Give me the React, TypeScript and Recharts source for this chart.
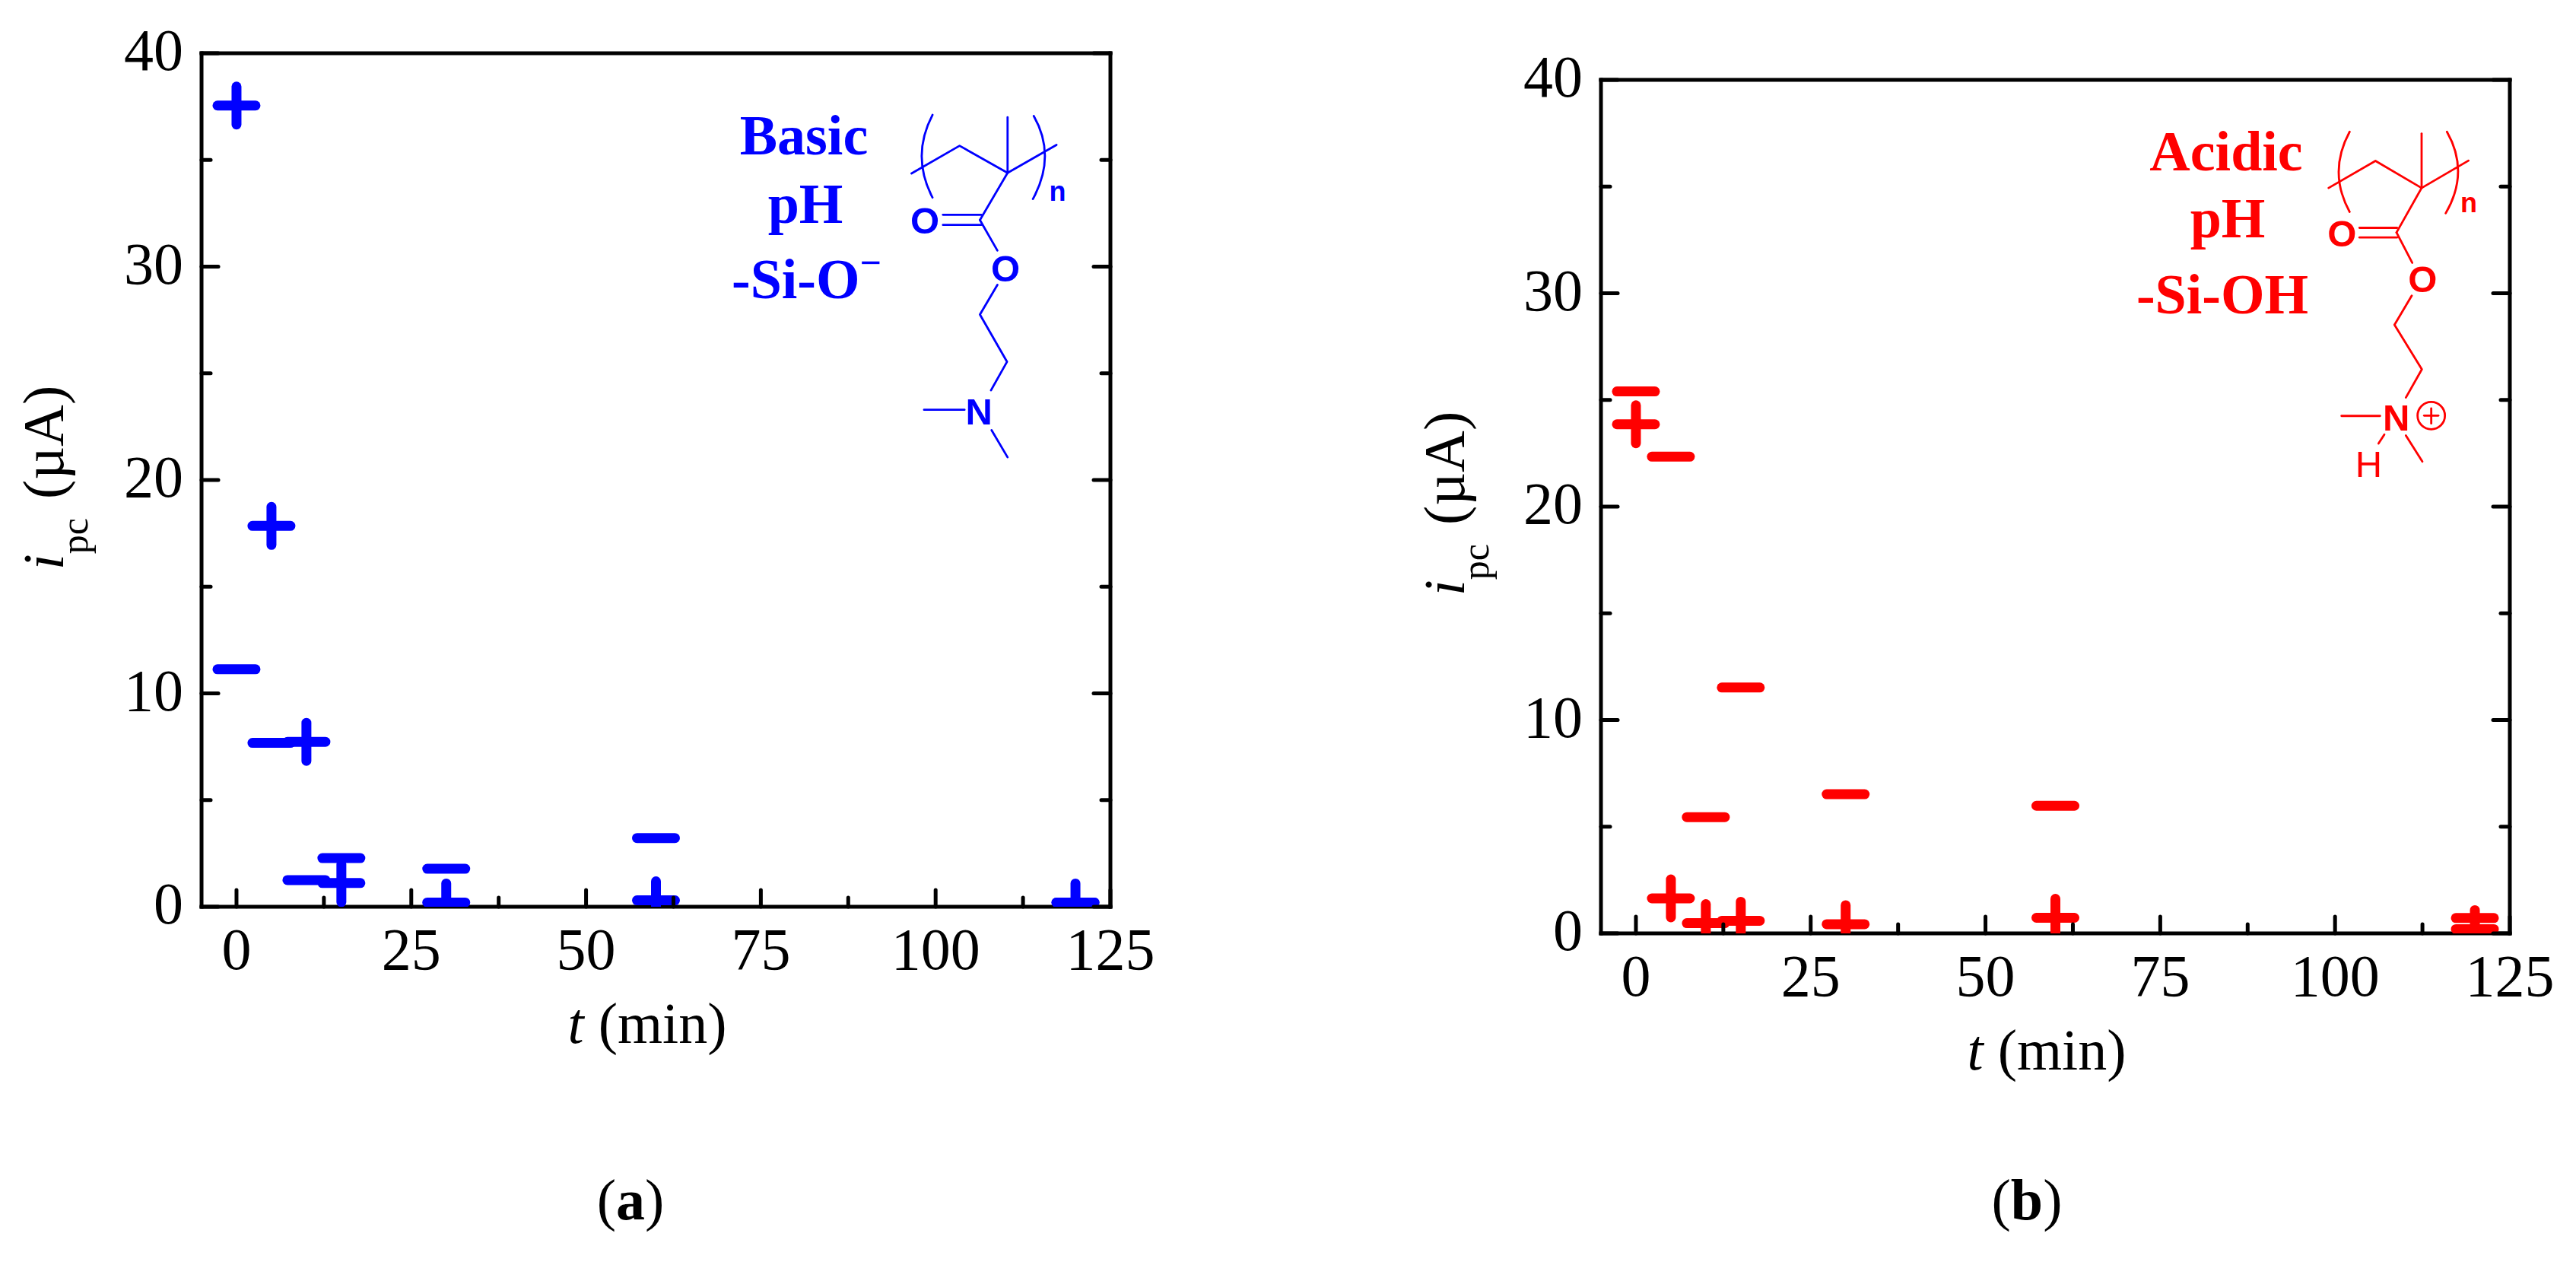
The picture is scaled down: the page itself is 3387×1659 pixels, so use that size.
import React from "react";
import { ScatterChart, Scatter, XAxis, YAxis } from "recharts";

const times = [0, 5, 10, 15, 30, 60, 120];
const basicPlus = [37.55, 17.85, 7.73, 1.11, 0.2, 0.3, 0.2];
const basicMinus = [11.13, 7.68, 1.25, 2.28, 1.78, 3.22, 0.2];
const acidicPlus = [23.86, 1.64, 0.48, 0.59, 0.43, 0.73, 0.2];
const acidicMinus = [25.4, 22.34, 5.45, 11.52, 6.52, 5.98, 0.72];
const xTicks = [0, 12.5, 25, 37.5, 50, 62.5, 75, 87.5, 100, 112.5, 125];
const xMajor = [0, 25, 50, 75, 100, 125];
const yTicks = [0, 5, 10, 15, 20, 25, 30, 35, 40];
const yMajor = [0, 10, 20, 30, 40];

const SERIF = "'Liberation Serif', 'Times New Roman', serif";
const SANS = "'Liberation Sans', Arial, sans-serif";
const TICK = 78;
const MAJ = 22;
const MIN = 12;
const TW = 5;

const rows = (ys: number[]) => times.map((t, i) => ({ t, v: ys[i] }));

function mark(kind: "plus" | "minus", color: string) {
  return (p: any) => {
    const { cx, cy } = p;
    const r = 25;
    return (
      <g stroke={color} strokeWidth={13} strokeLinecap="round" fill="none">
        <line x1={cx - r} y1={cy} x2={cx + r} y2={cy} />
        {kind === "plus" && <line x1={cx} y1={cy - r} x2={cx} y2={cy + r} />}
      </g>
    );
  };
}

function xTick(side: "bottom" | "top") {
  return (p: any) => {
    const { x, y, payload } = p;
    const major = xMajor.includes(payload.value);
    const len = major ? MAJ : MIN;
    const dir = side === "bottom" ? -1 : 1;
    return (
      <g>
        <line x1={x} y1={y} x2={x} y2={y + dir * len} stroke="#000" strokeWidth={TW} strokeLinecap="round" />
        {side === "bottom" && major && (
          <text x={x} y={y + 82} textAnchor="middle" fontFamily={SERIF} fontSize={TICK} fill="#000">
            {payload.value}
          </text>
        )}
      </g>
    );
  };
}

function yTick(side: "left" | "right") {
  return (p: any) => {
    const { x, y, payload } = p;
    const major = yMajor.includes(payload.value);
    const len = major ? MAJ : MIN;
    const dir = side === "left" ? 1 : -1;
    return (
      <g>
        <line x1={x} y1={y} x2={x + dir * len} y2={y} stroke="#000" strokeWidth={TW} strokeLinecap="round" />
        {side === "left" && major && (
          <text x={x - 24} y={y + 22} textAnchor="end" fontFamily={SERIF} fontSize={TICK} fill="#000">
            {payload.value}
          </text>
        )}
      </g>
    );
  };
}

function Panel({ left, top, right, bottom, color, plus, minus }: any) {
  const line = { stroke: "#000", strokeWidth: TW, strokeLinecap: "square" as const };
  const common = { type: "number" as const, tickLine: false, tickSize: 0, tickMargin: 0, interval: 0 as const, axisLine: line, allowDataOverflow: true };
  return (
    <div style={{ position: "absolute", left: 0, top: 0 }}>
      <ScatterChart width={3387} height={1659} margin={{ left: left - 1, top: top - 1, right: 3387 - right - 1, bottom: 1659 - bottom - 1 }}>
        <XAxis {...common} dataKey="t" domain={[-5, 125]} ticks={xTicks} height={1} tick={xTick("bottom")} />
        <XAxis {...common} xAxisId="top" orientation="top" domain={[-5, 125]} ticks={xTicks} height={1} tick={xTick("top")} />
        <YAxis {...common} dataKey="v" domain={[0, 40]} ticks={yTicks} width={1} tick={yTick("left")} />
        <YAxis {...common} yAxisId="right" orientation="right" domain={[0, 40]} ticks={yTicks} width={1} tick={yTick("right")} />
        <Scatter data={rows(plus)} isAnimationActive={false} shape={mark("plus", color)} />
        <Scatter data={rows(minus)} isAnimationActive={false} shape={mark("minus", color)} />
      </ScatterChart>
    </div>
  );
}

type Pt = [number, number];
function Structure({ ox, oy, sx, sy, color, lines, parens, labels, n, extra }: any) {
  const m = ([x, y]: Pt): Pt => [ox + x / sx, oy + y / sy];
  const d = (pts: Pt[]) => "M" + pts.map((q) => m(q).join(" ")).join("L");
  const q = (pts: Pt[]) => {
    const [a, b, c] = pts.map(m);
    return `M${a[0]} ${a[1]}Q${b[0]} ${b[1]} ${c[0]} ${c[1]}`;
  };
  return (
    <g stroke={color} fill="none" strokeWidth={2.8} strokeLinecap="round" strokeLinejoin="round">
      {lines.map((l: Pt[], i: number) => <path key={i} d={d(l)} />)}
      {parens.map((l: Pt[], i: number) => <path key={i} d={q(l)} />)}
      {labels.map(([t, x, y]: [string, number, number], i: number) => {
        const [a, b] = m([x, y]);
        return (
          <text key={i} x={a} y={b + 18} textAnchor="middle" fontFamily={SANS} fontWeight={t === "H" ? 400 : 700} fontSize={49} fill={color} stroke="none">
            {t}
          </text>
        );
      })}
      {(() => {
        const [a, b] = m(n);
        return <text x={a} y={b + 14} textAnchor="middle" fontFamily={SANS} fontWeight={700} fontSize={36} fill={color} stroke="none">n</text>;
      })()}
      {extra && extra(m)}
    </g>
  );
}

function Overlay() {
  const T = (p: any) => <text fontFamily={SERIF} fontSize={76} fill="#000" {...p} />;
  const note = { fontFamily: SERIF, fontWeight: 700, fontSize: 74 };
  const yTitle = (x: number, y: number) => (
    <text transform={`translate(${x} ${y}) rotate(-90)`} textAnchor="middle" fontFamily={SERIF} fontSize={76} fill="#000">
      <tspan fontStyle="italic">i</tspan>
      <tspan fontSize={50} dy={32}>pc</tspan>
      <tspan dy={-32} dx={6}> (µA)</tspan>
    </text>
  );
  return (
    <svg width={3387} height={1659} style={{ position: "absolute", left: 0, top: 0, pointerEvents: "none" }}>
      {yTitle(83, 628)}
      {yTitle(1925, 662)}
      <T x={851} y={1371} textAnchor="middle"><tspan fontStyle="italic">t</tspan> (min)</T>
      <T x={2691} y={1406} textAnchor="middle"><tspan fontStyle="italic">t</tspan> (min)</T>
      <T x={829} y={1603} textAnchor="middle">(<tspan fontWeight={700}>a</tspan>)</T>
      <T x={2665} y={1603} textAnchor="middle">(<tspan fontWeight={700}>b</tspan>)</T>

      <g {...note} fill="#0000ff">
        <text x={1057} y={203} textAnchor="middle">Basic</text>
        <text x={1059} y={293} textAnchor="middle">pH</text>
        <text x={962} y={392}>-Si-O<tspan fontSize={50} dy={-30}>−</tspan></text>
      </g>
      <g {...note} fill="#ff0000">
        <text x={2927} y={224} textAnchor="middle">Acidic</text>
        <text x={2929} y={312} textAnchor="middle">pH</text>
        <text x={3035} y={412} textAnchor="end">-Si-OH</text>
      </g>

      <Structure
        ox={900} oy={50} sx={2.613} sy={2.613} color="#0000ff"
        lines={[
          [[780, 465], [945, 370], [1110, 463], [1278, 367]],
          [[1110, 272], [1110, 463]],
          [[1110, 463], [1015, 625]],
          [[888, 607], [1020, 607]],
          [[888, 642], [1020, 642]],
          [[1015, 625], [1075, 730]],
          [[1075, 848], [1015, 950], [1108, 1112], [1053, 1210]],
          [[823, 1277], [962, 1277]],
          [[1055, 1347], [1110, 1440]],
        ]}
        parens={[
          [[852, 264], [778, 405], [852, 548]],
          [[1200, 268], [1278, 405], [1197, 553]],
        ]}
        labels={[["O", 826, 625], ["O", 1103, 788], ["N", 1012, 1280]]}
        n={[1282, 522]}
      />
      <Structure
        ox={2850} oy={50} sx={3} sy={2.613} color="#ff0000"
        lines={[
          [[635, 515], [820, 422], [1002, 515], [1187, 421]],
          [[1002, 328], [1002, 515]],
          [[1002, 515], [903, 668]],
          [[757, 652], [905, 652]],
          [[757, 685], [905, 685]],
          [[903, 668], [965, 772]],
          [[963, 885], [895, 985], [1003, 1138], [940, 1235]],
          [[686, 1298], [838, 1298]],
          [[940, 1365], [1005, 1455]],
          [[855, 1362], [832, 1393]],
          [[1012, 1297], [1068, 1297]],
          [[1040, 1272], [1040, 1324]],
        ]}
        parens={[
          [[718, 322], [632, 460], [718, 597]],
          [[1102, 322], [1192, 460], [1097, 602]],
        ]}
        labels={[["O", 688, 668], ["O", 1006, 826], ["N", 902, 1302], ["H", 793, 1460]]}
        n={[1188, 563]}
        extra={(m: any) => {
          const [a, b] = m([1040, 1297]);
          return <circle cx={a} cy={b} r={18} />;
        }}
      />
    </svg>
  );
}

export default function App() {
  return (
    <div style={{ position: "absolute", left: 0, top: 0, width: 3387, height: 1659, background: "#fff", overflow: "hidden" }}>
      <Panel left={265} top={70} right={1460} bottom={1192} color="#0000ff" plus={basicPlus} minus={basicMinus} />
      <Panel left={2105} top={105} right={3300} bottom={1227} color="#ff0000" plus={acidicPlus} minus={acidicMinus} />
      <Overlay />
    </div>
  );
}
